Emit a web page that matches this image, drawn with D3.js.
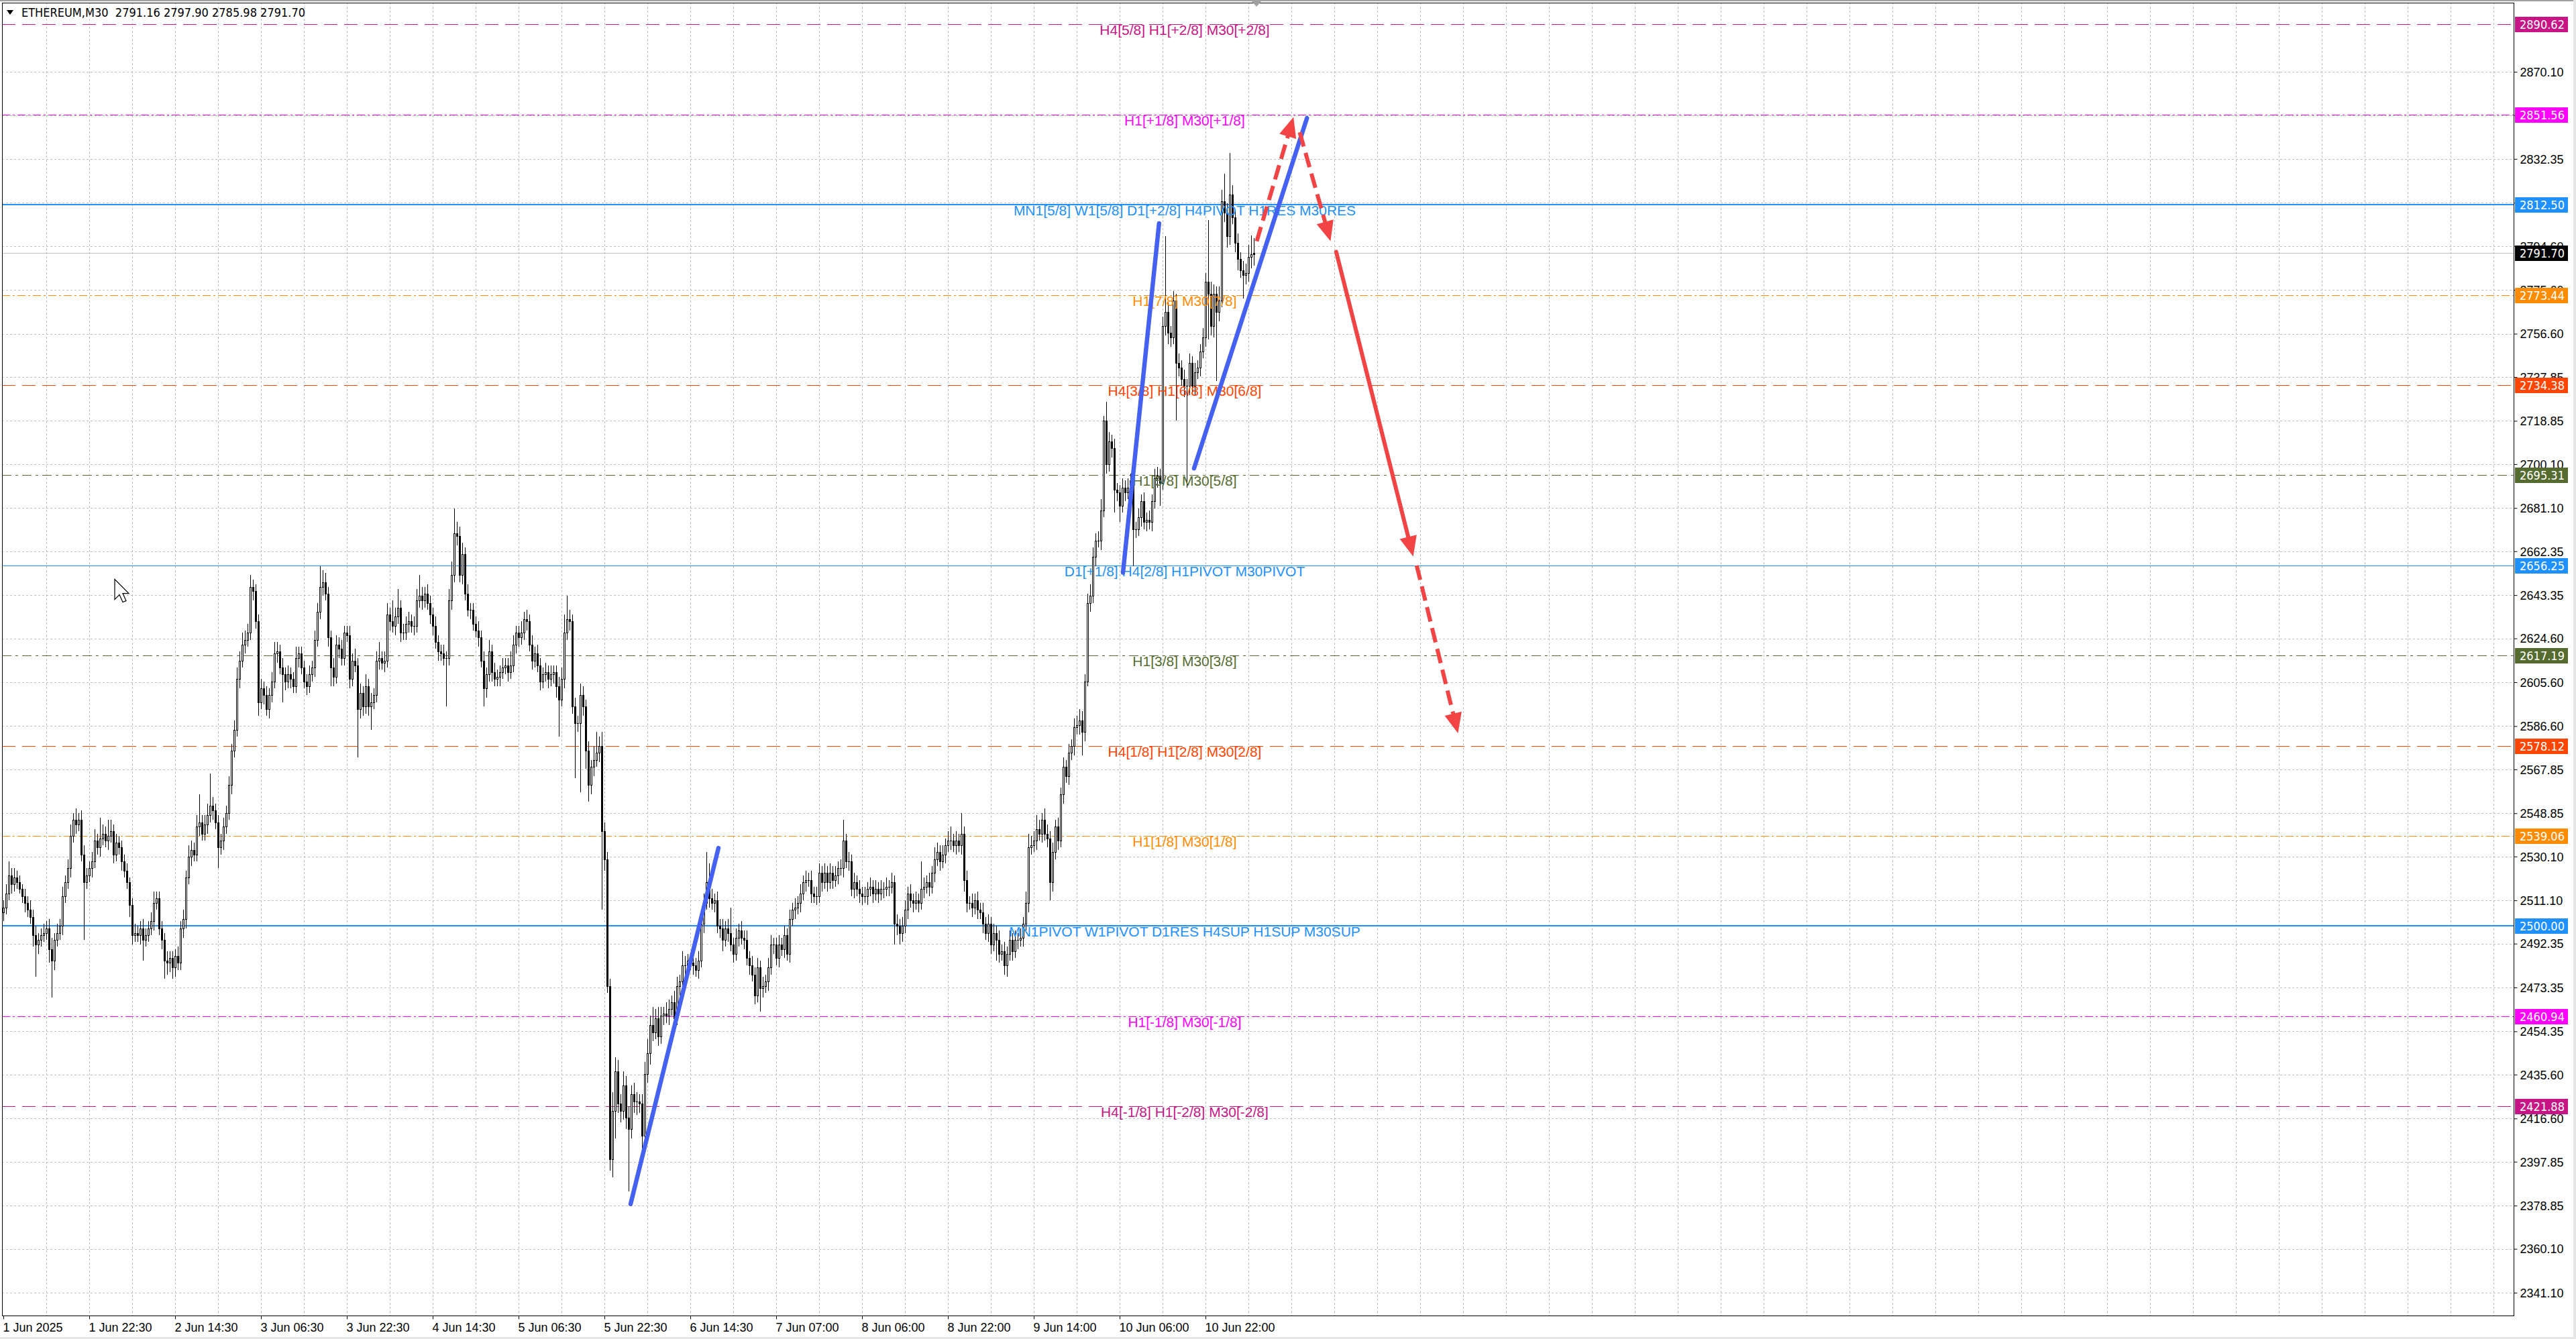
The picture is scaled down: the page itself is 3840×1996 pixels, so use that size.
<!DOCTYPE html>
<html>
<head>
<meta charset="utf-8">
<script src="https://cdn.jsdelivr.net/npm/d3@7"></script>
<style>
  html, body { margin: 0; padding: 0; background: #ffffff; }
  svg { display: block; }
  .ui { font-family: 'DejaVu Sans Condensed', 'DejaVu Sans', sans-serif; font-stretch: condensed; font-size: 18px; }
  .lvl { font-family: 'Liberation Sans', Arial, sans-serif; font-size: 21px; }
</style>
</head>
<body>
<div class="chartDiv"></div>
<script>
// ETHEREUM M30 candles, one row = 16 bars (one grid cell)
const closes = [
  2508, 2514, 2522, 2518, 2521, 2519, 2516, 2513, 2510, 2507, 2504, 2496, 2492, 2494, 2496, 2497,
  2499, 2490, 2485, 2494, 2497, 2500, 2513, 2519, 2525, 2539, 2546, 2544, 2546, 2531, 2519, 2522,
  2525, 2528, 2537, 2534, 2538, 2540, 2537, 2539, 2541, 2531, 2536, 2534, 2528, 2524, 2519, 2509,
  2496, 2497, 2496, 2499, 2494, 2496, 2499, 2502, 2510, 2512, 2499, 2494, 2485, 2484, 2486, 2482,
  2487, 2484, 2499, 2503, 2521, 2530, 2533, 2531, 2543, 2545, 2540, 2544, 2548, 2552, 2550, 2545,
  2534, 2537, 2543, 2549, 2561, 2576, 2585, 2607, 2615, 2622, 2624, 2627, 2647, 2645, 2632, 2597,
  2603, 2600, 2594, 2600, 2606, 2618, 2619, 2612, 2609, 2606, 2609, 2607, 2604, 2616, 2618, 2612,
  2606, 2604, 2609, 2612, 2624, 2636, 2647, 2649, 2644, 2625, 2612, 2608, 2622, 2620, 2616, 2627,
  2626, 2607, 2615, 2613, 2594, 2601, 2595, 2604, 2595, 2597, 2600, 2615, 2616, 2614, 2615, 2635,
  2632, 2630, 2634, 2638, 2627, 2627, 2631, 2632, 2630, 2630, 2641, 2643, 2641, 2644, 2640, 2635,
  2630, 2623, 2619, 2618, 2616, 2616, 2641, 2652, 2670, 2669, 2652, 2661, 2644, 2637, 2637, 2631,
  2628, 2625, 2615, 2603, 2609, 2619, 2610, 2607, 2608, 2610, 2612, 2613, 2610, 2613, 2622, 2627,
  2625, 2627, 2633, 2632, 2622, 2615, 2618, 2613, 2606, 2609, 2610, 2607, 2609, 2610, 2604, 2598,
  2607, 2627, 2633, 2632, 2595, 2588, 2588, 2600, 2595, 2576, 2561, 2569, 2572, 2575, 2578, 2541,
  2529, 2474, 2399, 2420, 2437, 2423, 2420, 2431, 2417, 2412, 2427, 2424, 2424, 2423, 2409, 2436,
  2445, 2457, 2454, 2460, 2452, 2461, 2462, 2461, 2464, 2467, 2460, 2474, 2476, 2483, 2483, 2485,
  2484, 2483, 2481, 2485, 2501, 2510, 2519, 2512, 2510, 2511, 2500, 2499, 2494, 2499, 2497, 2492,
  2488, 2495, 2498, 2495, 2494, 2486, 2483, 2479, 2470, 2482, 2473, 2474, 2476, 2482, 2492, 2492,
  2486, 2492, 2490, 2496, 2488, 2503, 2507, 2508, 2510, 2514, 2519, 2520, 2520, 2514, 2513, 2513,
  2523, 2519, 2523, 2519, 2523, 2520, 2522, 2525, 2525, 2537, 2528, 2528, 2516, 2519, 2516, 2514,
  2513, 2513, 2516, 2517, 2514, 2516, 2514, 2516, 2516, 2517, 2517, 2519, 2501, 2500, 2497, 2500,
  2507, 2514, 2511, 2510, 2511, 2510, 2516, 2517, 2519, 2517, 2523, 2529, 2532, 2528, 2531, 2535,
  2537, 2537, 2535, 2537, 2535, 2540, 2520, 2510, 2510, 2508, 2511, 2507, 2506, 2501, 2497, 2501,
  2492, 2497, 2494, 2488, 2489, 2483, 2488, 2494, 2489, 2494, 2494, 2495, 2501, 2510, 2534, 2535,
  2537, 2542, 2540, 2546, 2540, 2538, 2519, 2532, 2543, 2537, 2557, 2569, 2565, 2575, 2578, 2586,
  2587, 2589, 2584, 2606, 2640, 2643, 2660, 2667, 2667, 2680, 2719, 2700, 2710, 2707, 2689, 2688,
  2682, 2690, 2688, 2690, 2693, 2672, 2672, 2677, 2684, 2675, 2676, 2675, 2684, 2694, 2695, 2692,
  2760, 2766, 2757, 2755, 2771, 2744, 2742, 2737, 2734, 2734, 2744, 2734, 2740, 2742, 2749, 2755,
  2779, 2774, 2760, 2774, 2766, 2771, 2814, 2809, 2799, 2817, 2807, 2796, 2789, 2784, 2782, 2783,
  2790, 2791.16, 2791.70
];
const firstOpen = 2506;

// wick length above / below the body, in price units
const wickUp = [
  3,4,6,3,4,3,3,2,3,3,4,3,4,3,3,4,
  3,4,5,3,4,3,4,3,4,5,3,5,3,4,4,3,
  3,4,5,3,9,4,3,7,5,3,4,3,3,3,3,2,
  3,4,3,3,4,3,3,4,5,3,3,3,3,4,3,3,
  3,4,3,4,3,5,4,3,5,12,3,4,5,14,4,3,
  3,3,4,3,4,3,4,5,4,5,4,4,5,3,3,3,
  4,3,4,3,4,5,4,3,4,3,4,3,3,5,3,3,
  3,3,4,3,4,4,9,5,4,3,3,4,4,3,4,3,
  3,4,3,5,3,4,3,5,3,4,3,4,7,3,4,5,
  3,9,4,8,3,4,3,4,3,4,5,9,4,3,4,3,
  3,4,3,3,4,3,5,6,11,5,4,5,3,4,3,3,
  3,4,3,4,3,5,3,4,3,3,4,3,3,6,4,3,
  3,5,3,4,3,4,3,4,3,3,4,3,4,3,3,4,
  5,8,10,4,3,4,3,5,4,3,4,3,6,9,4,6,
  4,3,3,8,6,5,4,6,4,5,4,5,4,3,4,5,
  6,4,8,4,5,4,3,5,4,3,5,4,3,6,4,3,
  3,4,3,4,5,4,13,8,4,3,4,3,4,3,4,11,
  3,4,3,4,3,4,3,4,3,4,3,4,3,4,4,3,
  3,4,3,4,3,4,3,4,3,4,3,4,3,4,3,4,
  4,3,4,3,4,3,4,3,4,9,3,4,3,4,3,4,
  3,4,3,4,3,4,3,4,3,4,3,4,3,4,3,4,
  4,3,4,3,4,3,12,4,3,4,3,5,4,3,4,3,
  4,6,3,4,3,9,3,4,3,4,3,4,3,4,3,4,
  3,4,3,4,3,4,3,4,3,4,3,4,3,5,6,4,
  4,6,4,3,5,4,3,4,3,4,3,4,3,4,3,4,
  4,5,4,3,4,5,4,3,4,5,2,8,4,3,4,3,
  3,4,3,4,3,4,3,4,3,4,3,4,3,4,4,3,
  4,33,4,3,4,3,4,3,4,3,4,3,4,3,3,4,
  4,27,5,4,3,6,5,12,4,18,4,3,4,3,4,4,
  5,8,6.2
];
const wickDn = [
  4,3,3,4,3,3,2,3,4,3,3,5,14,4,3,3,
  3,6,16,4,3,3,4,3,3,4,3,4,3,3,25,3,
  3,4,3,3,4,3,3,4,3,4,3,3,4,3,3,5,
  4,3,3,4,9,3,3,3,4,3,3,4,8,5,4,5,
  4,3,3,4,4,3,4,3,3,4,3,3,4,3,4,3,
  9,3,4,3,3,4,3,3,4,3,4,3,3,4,3,6,
  3,4,3,4,3,3,4,3,12,4,3,4,3,3,4,3,
  3,4,3,3,4,3,3,4,3,4,8,4,3,4,3,3,
  3,4,3,3,21,4,4,3,4,10,3,3,4,3,4,3,
  4,3,4,3,4,3,3,4,3,4,3,3,4,3,3,4,
  4,3,4,3,3,21,3,4,3,4,3,4,3,3,4,3,
  3,4,3,8,4,3,4,3,3,4,3,3,4,3,3,4,
  4,3,3,4,3,4,3,3,4,3,3,4,3,4,5,16,
  3,4,3,4,3,24,4,30,4,8,7,4,4,3,4,34,
  5,3,5,8,12,4,5,4,5,27,4,5,6,4,6,4,
  4,5,4,3,4,3,4,3,4,3,4,3,4,3,4,3,
  3,4,3,4,3,4,3,4,3,4,3,4,5,3,4,3,
  4,3,4,3,4,3,4,3,4,3,10,4,3,4,3,4,
  3,4,3,4,3,4,3,4,3,4,3,4,3,4,3,4,
  3,4,3,4,3,4,3,4,3,4,3,4,3,4,3,4,
  4,3,4,3,4,3,4,3,4,3,4,3,9,4,5,4,
  3,4,3,4,3,4,3,4,3,4,3,4,3,4,3,4,
  3,4,3,4,3,4,5,4,3,4,3,4,3,4,3,4,
  4,3,9,4,3,4,5,3,4,3,4,3,4,3,4,3,
  3,4,3,4,3,4,8,4,3,4,3,4,3,4,3,4,
  3,4,10,4,2,4,3,4,3,4,3,4,3,4,10,4,
  7,3,4,3,4,16,4,3,4,3,4,3,4,3,4,10,
  3,4,5,4,3,25,4,3,5,44,4,3,4,3,4,3,
  4,20,4,5,30,4,3,4,5,4,3,4,5,3,10,4,
  4,5,5.18
];

const priceTicks = [2870.10, 2851.35, 2832.35, 2813.35, 2794.60, 2775.60, 2756.60, 2737.85, 2718.85,
  2700.10, 2681.10, 2662.35, 2643.35, 2624.60, 2605.60, 2586.60, 2567.85, 2548.85, 2530.10, 2511.10,
  2492.35, 2473.35, 2454.35, 2435.60, 2416.60, 2397.85, 2378.85, 2360.10, 2341.10];

const timeLabels = ['1 Jun 2025', '1 Jun 22:30', '2 Jun 14:30', '3 Jun 06:30', '3 Jun 22:30', '4 Jun 14:30',
  '5 Jun 06:30', '5 Jun 22:30', '6 Jun 14:30', '7 Jun 07:00', '8 Jun 06:00', '8 Jun 22:00',
  '9 Jun 14:00', '10 Jun 06:00', '10 Jun 22:00'];

// Murrey math levels
const levelPrices = [2890.62, 2851.56, 2812.50, 2773.44, 2734.38, 2695.31, 2656.25, 2617.19,
  2578.12, 2539.06, 2500.00, 2460.94, 2421.88];
const levelNames = [
  'H4[5/8] H1[+2/8] M30[+2/8]',
  'H1[+1/8] M30[+1/8]',
  'MN1[5/8] W1[5/8] D1[+2/8] H4PIVOT H1RES M30RES',
  'H1[7/8] M30[7/8]',
  'H4[3/8] H1[6/8] M30[6/8]',
  'H1[5/8] M30[5/8]',
  'D1[+1/8] H4[2/8] H1PIVOT M30PIVOT',
  'H1[3/8] M30[3/8]',
  'H4[1/8] H1[2/8] M30[2/8]',
  'H1[1/8] M30[1/8]',
  'MN1PIVOT W1PIVOT D1RES H4SUP H1SUP M30SUP',
  'H1[-1/8] M30[-1/8]',
  'H4[-1/8] H1[-2/8] M30[-2/8]'
];
const lastPrice = 2791.70;
const titleText = 'ETHEREUM,M30  2791.16 2797.90 2785.98 2791.70';

// hand drawn marks: [bar, price, bar, price]
const blueTrends = [
  [233.75, 2379.5, 266.5, 2533.8],
  [417.25, 2653.1, 430.7, 2804.4],
  [443.75, 2698.3, 485.8, 2850.0]
];
const redArrows = [
  [467.1, 2796.7, 480.8, 2850.5],
  [483.1, 2843.9, 494.6, 2796.7],
  [496.7, 2792.1, 525.4, 2660.1],
  [526.7, 2656.2, 542.1, 2583.5]
];
const redDashed = [true, true, false, true];

// ---------- layout / style ----------
const chartWidth = 3840;
const chartHeight = 1996;
const plotLeft = 3, plotTop = 4, plotRight = 3747, plotBottom = 1961;
const barsPerGrid = 16;
const barsPerLabel = 32;

const levelLook = [
  {color: '#C71585', dash: '20,10', width: 1},
  {color: '#FF00FF', dash: '12,4,3,4', width: 1},
  {color: '#1E90FF', dash: null, width: 2},
  {color: '#FF8C00', dash: '12,4,3,4', width: 1},
  {color: '#FF4500', dash: '20,10', width: 1},
  {color: '#556B2F', dash: '14,6,4,6', width: 1},
  {color: '#1E90FF', dash: null, width: 1},
  {color: '#556B2F', dash: '14,6,4,6', width: 1},
  {color: '#FF4500', dash: '20,10', width: 1},
  {color: '#FF8C00', dash: '12,4,3,4', width: 1},
  {color: '#1E90FF', dash: null, width: 2},
  {color: '#FF00FF', dash: '12,4,3,4', width: 1},
  {color: '#C71585', dash: '20,10', width: 1}
];

const svg = d3.select('.chartDiv')
  .append('svg')
  .attr('width', chartWidth)
  .attr('height', chartHeight);

const x = d3.scaleLinear().domain([0, 935.5]).range([5, plotRight]);
const y = d3.scaleLinear().domain([2331.22, 2899.75]).range([plotBottom, 5]);

function drawFrame() {
  svg.append('rect').attr('x', 0).attr('y', 0).attr('width', chartWidth).attr('height', chartHeight).attr('fill', '#ffffff');
  svg.append('rect').attr('x', 0).attr('y', 0).attr('width', chartWidth).attr('height', 2).attr('fill', '#a0a0a0');
  svg.append('rect').attr('x', 3836).attr('y', 0).attr('width', 4).attr('height', chartHeight).attr('fill', '#e6e6e6');
  svg.append('rect').attr('x', 0).attr('y', 1993).attr('width', chartWidth).attr('height', 3).attr('fill', '#e6e6e6');
}

function drawGrid() {
  const g = svg.append('g').attr('shape-rendering', 'crispEdges');
  g.selectAll('line.hgrid')
    .data(priceTicks)
    .enter()
    .append('line')
    .attr('x1', plotLeft).attr('x2', plotRight)
    .attr('y1', d => Math.round(y(d)) + 0.5)
    .attr('y2', d => Math.round(y(d)) + 0.5)
    .attr('stroke', '#c0c0c0')
    .attr('stroke-dasharray', '3,3');

  const vBars = d3.range(barsPerGrid, 935, barsPerGrid);
  g.selectAll('line.vgrid')
    .data(vBars)
    .enter()
    .append('line')
    .attr('x1', d => Math.round(x(d)) + 0.5)
    .attr('x2', d => Math.round(x(d)) + 0.5)
    .attr('y1', plotTop).attr('y2', plotBottom)
    .attr('stroke', '#c0c0c0')
    .attr('stroke-dasharray', '3,3');
}

function drawLevels() {
  const g = svg.append('g');
  levelPrices.forEach((p, i) => {
    const look = levelLook[i];
    const yy = Math.round(y(p)) + (look.width === 1 ? 0.5 : 0);
    g.append('line')
      .attr('x1', plotLeft).attr('x2', plotRight)
      .attr('y1', yy).attr('y2', yy)
      .attr('stroke', look.color)
      .attr('stroke-width', look.width)
      .attr('stroke-dasharray', look.dash)
      .attr('shape-rendering', 'crispEdges');
  });

  // bid line
  g.append('line')
    .attr('x1', plotLeft).attr('x2', plotRight)
    .attr('y1', Math.round(y(lastPrice)) + 0.5).attr('y2', Math.round(y(lastPrice)) + 0.5)
    .attr('stroke', '#c0c0c0')
    .attr('shape-rendering', 'crispEdges');
}

function drawCandles() {
  const bars = closes.map((c, i) => {
    const o = i === 0 ? firstOpen : closes[i - 1];
    return {
      i: i, o: o, c: c,
      h: Math.max(o, c) + wickUp[i],
      l: Math.min(o, c) - wickDn[i]
    };
  });

  const g = svg.append('g').attr('shape-rendering', 'crispEdges');
  const cx = d => Math.round(x(d.i));

  g.selectAll('rect.wick')
    .data(bars)
    .enter()
    .append('rect')
    .attr('x', d => cx(d))
    .attr('y', d => Math.round(y(d.h)))
    .attr('width', 1)
    .attr('height', d => Math.max(1, Math.round(y(d.l)) - Math.round(y(d.h))))
    .attr('fill', '#000');

  g.selectAll('rect.body')
    .data(bars)
    .enter()
    .append('rect')
    .attr('x', d => cx(d) - 1)
    .attr('y', d => Math.round(y(Math.max(d.o, d.c))))
    .attr('width', 3)
    .attr('height', d => Math.max(1, Math.round(y(Math.min(d.o, d.c))) - Math.round(y(Math.max(d.o, d.c))) + 1))
    .attr('fill', '#000');

  g.selectAll('rect.hollow')
    .data(bars.filter(d => d.c > d.o && (y(d.o) - y(d.c)) > 2))
    .enter()
    .append('rect')
    .attr('x', d => cx(d))
    .attr('y', d => Math.round(y(d.c)) + 1)
    .attr('width', 1)
    .attr('height', d => Math.round(y(d.o)) - Math.round(y(d.c)) - 1)
    .attr('fill', '#fff');
}

function drawLevelTexts() {
  const g = svg.append('g').attr('class', 'lvl');
  levelPrices.forEach((p, i) => {
    g.append('text')
      .attr('x', x(440.25))
      .attr('y', y(p) + 16)
      .attr('text-anchor', 'middle')
      .attr('fill', levelLook[i].color)
      .text(levelNames[i]);
  });
}

function arrowHead(g, x1, y1, x2, y2, color) {
  const ang = Math.atan2(y2 - y1, x2 - x1);
  const len = 30, half = 13;
  const bx = x2 - len * Math.cos(ang), by = y2 - len * Math.sin(ang);
  const pts = [
    [x2, y2],
    [bx + half * Math.sin(ang), by - half * Math.cos(ang)],
    [bx - half * Math.sin(ang), by + half * Math.cos(ang)]
  ];
  g.append('polygon').attr('points', pts.map(p => p.join(',')).join(' ')).attr('fill', color);
}

function drawMarks() {
  const g = svg.append('g');
  blueTrends.forEach(t => {
    g.append('line')
      .attr('x1', x(t[0])).attr('y1', y(t[1]))
      .attr('x2', x(t[2])).attr('y2', y(t[3]))
      .attr('stroke', '#4561f2')
      .attr('stroke-width', 6.5)
      .attr('stroke-linecap', 'round');
  });

  redArrows.forEach((a, i) => {
    const x1 = x(a[0]), y1 = y(a[1]), x2 = x(a[2]), y2 = y(a[3]);
    const ang = Math.atan2(y2 - y1, x2 - x1);
    // stop the shaft where the head starts
    const ex = x2 - 26 * Math.cos(ang), ey = y2 - 26 * Math.sin(ang);
    g.append('line')
      .attr('x1', x1).attr('y1', y1)
      .attr('x2', ex).attr('y2', ey)
      .attr('stroke', '#f24444')
      .attr('stroke-width', 6)
      .attr('stroke-linecap', redDashed[i] ? 'butt' : 'round')
      .attr('stroke-dasharray', redDashed[i] ? '22,10' : null);
    arrowHead(g, x1, y1, x2, y2, '#f24444');
  });
}

function drawAxes() {
  const g = svg.append('g').attr('class', 'ui');

  const yAxis = d3.axisRight(y)
    .tickValues(priceTicks)
    .tickSize(5)
    .tickPadding(4)
    .tickFormat(d3.format('.2f'));
  const ya = g.append('g')
    .attr('transform', `translate(${plotRight + 0.5},0)`)
    .call(yAxis);
  ya.select('.domain').remove();
  ya.selectAll('text').attr('fill', '#000').style('font-size', '18px').attr('dy', '0.35em');
  ya.selectAll('line').attr('stroke', '#000');

  const labelBars = timeLabels.map((t, i) => i * barsPerLabel);
  const xAxis = d3.axisBottom(x)
    .tickValues(labelBars)
    .tickSize(5)
    .tickPadding(6)
    .tickFormat((d, i) => timeLabels[i]);
  const xa = g.append('g')
    .attr('transform', `translate(0,${plotBottom + 0.5})`)
    .call(xAxis);
  xa.select('.domain').remove();
  xa.selectAll('text').attr('fill', '#000').style('font-size', '18px').attr('text-anchor', 'start').attr('dx', -1);
  xa.selectAll('line').attr('stroke', '#000');

  // frame
  svg.append('rect')
    .attr('x', plotLeft + 0.5).attr('y', plotTop + 0.5)
    .attr('width', plotRight - plotLeft).attr('height', plotBottom - plotTop)
    .attr('fill', 'none')
    .attr('stroke', '#000')
    .attr('shape-rendering', 'crispEdges');

  // coloured price tags on the right scale
  const tags = levelPrices.map((p, i) => ({p: p, color: levelLook[i].color}));
  tags.splice(3, 0, {p: lastPrice, color: '#000000'});
  const tg = svg.append('g').attr('class', 'ui');
  tags.forEach(t => {
    const yy = Math.round(y(t.p));
    tg.append('rect')
      .attr('x', plotRight + 2).attr('y', yy - 11)
      .attr('width', 79).attr('height', 23)
      .attr('fill', t.color);
    tg.append('text')
      .attr('x', plotRight + 9).attr('y', yy + 7)
      .attr('fill', '#fff')
      .text(d3.format('.2f')(t.p));
  });

  // title
  svg.append('path')
    .attr('d', 'M10,15 L20,15 L15,22 Z')
    .attr('fill', '#000');
  svg.append('text')
    .attr('class', 'ui')
    .attr('x', 32).attr('y', 25)
    .attr('fill', '#000')
    .attr('xml:space', 'preserve')
    .style('white-space', 'pre')
    .text(titleText);

  // chart shift marker just after the last bar
  const sx = x(closes.length);
  svg.append('path')
    .attr('d', `M${sx - 7},2 L${sx + 7},2 L${sx},10 Z`)
    .attr('fill', '#a0a0a0');

  // mouse pointer left on the picture
  const px = x(41.5), py = y(2650.2);
  const cur = [[0,0],[0,30],[7,23],[12,34],[17,32],[12,21],[21,21]];
  svg.append('polygon')
    .attr('points', cur.map(p => (px + p[0]) + ',' + (py + p[1])).join(' '))
    .attr('fill', '#fff')
    .attr('stroke', '#000')
    .attr('stroke-width', 1.2);
}

drawFrame();
drawGrid();
drawLevels();
drawCandles();
drawLevelTexts();
drawMarks();
drawAxes();
</script>
</body>
</html>
